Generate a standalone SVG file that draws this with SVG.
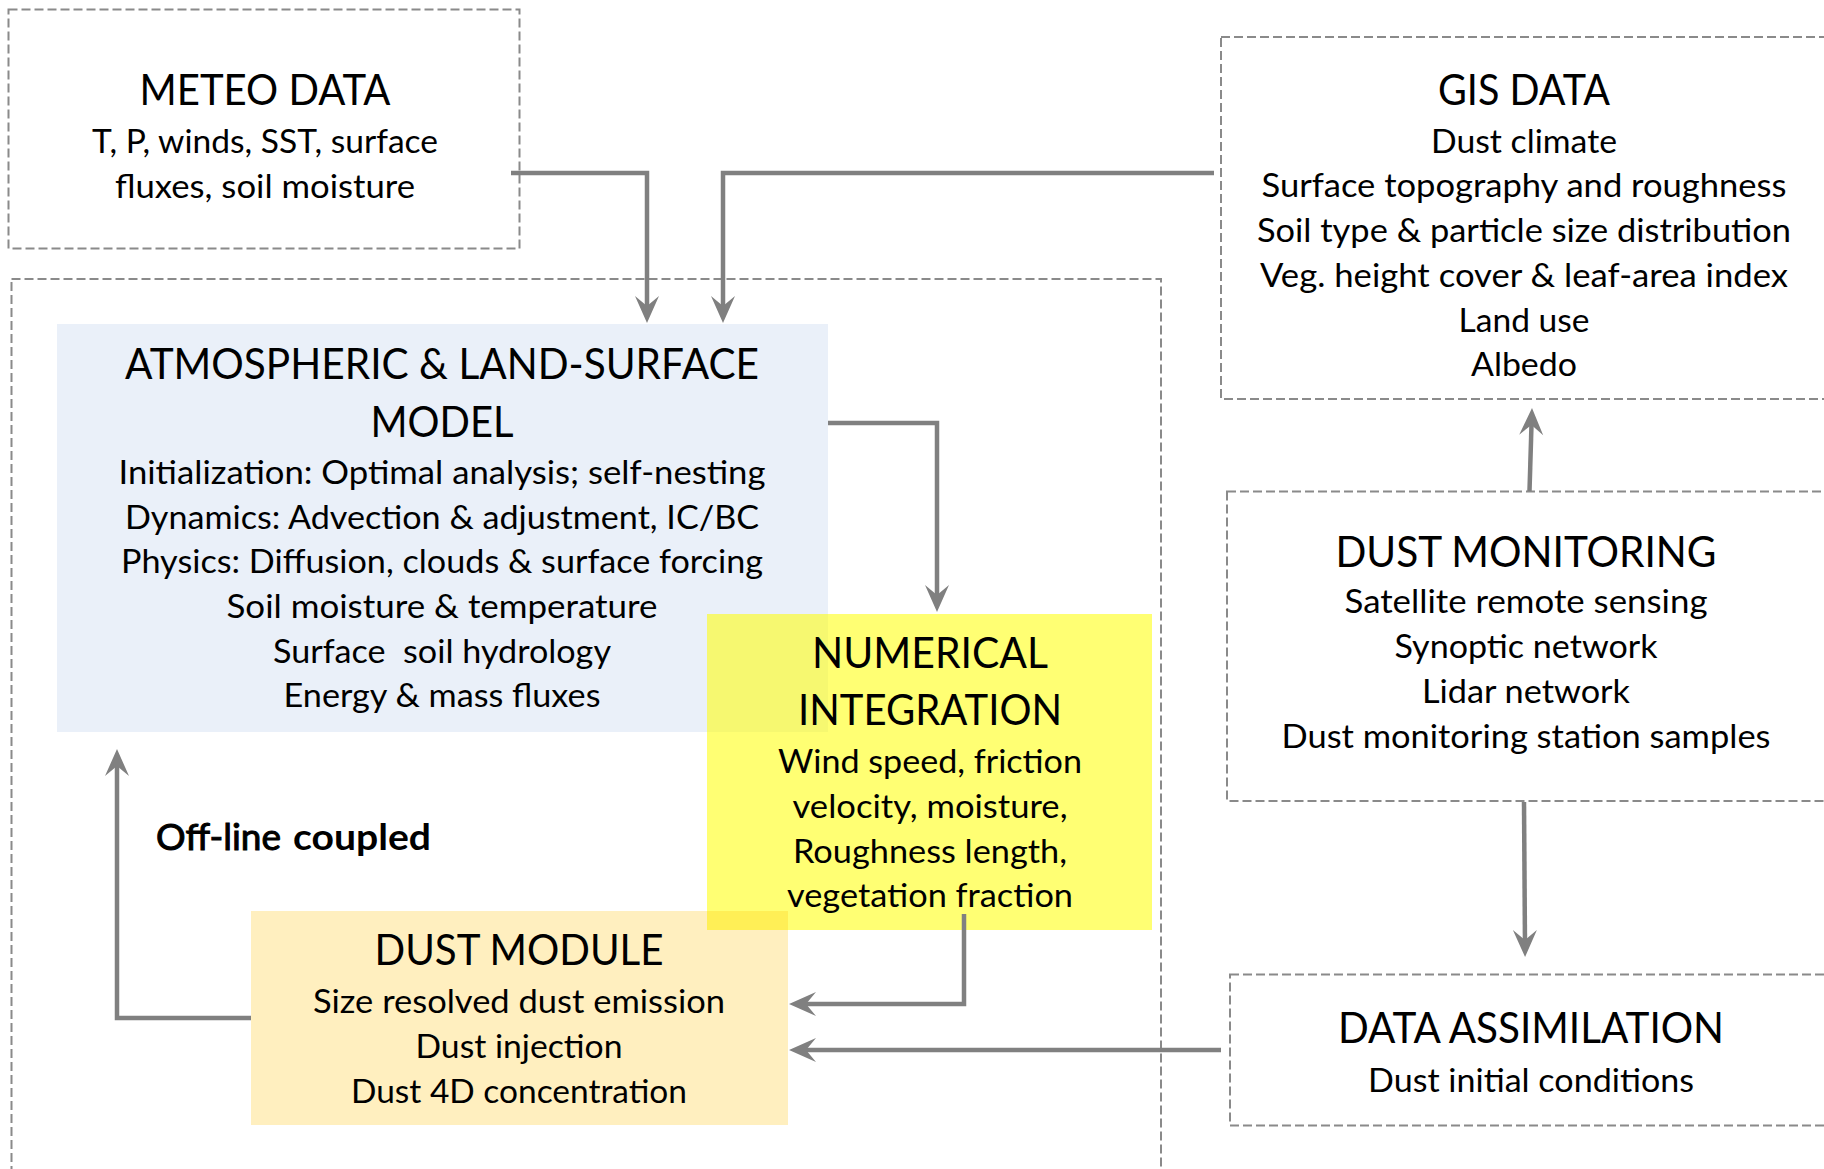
<svg xmlns="http://www.w3.org/2000/svg" width="1824" height="1169" viewBox="0 0 1824 1169">
<defs>
<style>
.box{fill:none;stroke:#8a8a8a;stroke-width:2;stroke-dasharray:9 4}
.t{font-family:Lato,"Open Sans","DejaVu Sans",sans-serif;fill:#000;text-anchor:middle}
.h{font-size:42px}
.b{font-size:32px}
.c{fill:none;stroke:#808080;stroke-width:4.5;stroke-linejoin:miter;marker-end:url(#ah)}
.ol{font-family:Lato,"Open Sans","DejaVu Sans",sans-serif;font-size:36px;fill:#000}
</style>
<marker id="ah" markerUnits="userSpaceOnUse" viewBox="-30 -15 32 30" refX="-10" refY="0" markerWidth="32" markerHeight="30" orient="auto">
<path d="M0,0 L-27,-12 L-17,0 L-27,12 Z" fill="#808080"/>
</marker>
</defs>
<rect width="1824" height="1169" fill="#fff"/>

<g id="container">
<rect class="box" x="11.5" y="279" width="1149.5" height="930"/>
</g>

<g id="meteo">
<rect class="box" x="8.5" y="9.5" width="511" height="239"/>
<text class="t h" x="265" y="105" textLength="251" lengthAdjust="spacingAndGlyphs">METEO DATA</text>
<text class="t b" x="265" y="153" textLength="346" lengthAdjust="spacingAndGlyphs">T, P, winds, SST, surface</text>
<text class="t b" x="265" y="198" textLength="300" lengthAdjust="spacingAndGlyphs">fluxes, soil moisture</text>
</g>

<g id="atm">
<rect x="57" y="324" width="771" height="408" fill="#EAF0F9"/>
<text class="t h" x="442" y="379" textLength="634" lengthAdjust="spacingAndGlyphs">ATMOSPHERIC &amp; LAND-SURFACE</text>
<text class="t h" x="442" y="437" textLength="143" lengthAdjust="spacingAndGlyphs">MODEL</text>
<text class="t b" x="442" y="484" textLength="647" lengthAdjust="spacingAndGlyphs">Initialization: Optimal analysis; self-nesting</text>
<text class="t b" x="442" y="529" textLength="634" lengthAdjust="spacingAndGlyphs">Dynamics: Advection &amp; adjustment, IC/BC</text>
<text class="t b" x="442" y="573" textLength="642" lengthAdjust="spacingAndGlyphs">Physics: Diffusion, clouds &amp; surface forcing</text>
<text class="t b" x="442" y="618" textLength="431" lengthAdjust="spacingAndGlyphs">Soil moisture &amp; temperature</text>
<text class="t b" x="442" y="663" textLength="338" lengthAdjust="spacingAndGlyphs" xml:space="preserve">Surface  soil hydrology</text>
<text class="t b" x="442" y="707" textLength="317" lengthAdjust="spacingAndGlyphs">Energy &amp; mass fluxes</text>
</g>

<g id="numerical">
<rect x="707" y="614" width="445" height="316" fill="#FFFF00" fill-opacity="0.55"/>
<text class="t h" x="930" y="668" textLength="236" lengthAdjust="spacingAndGlyphs">NUMERICAL</text>
<text class="t h" x="930" y="725" textLength="264" lengthAdjust="spacingAndGlyphs">INTEGRATION</text>
<text class="t b" x="930" y="773" textLength="304" lengthAdjust="spacingAndGlyphs">Wind speed, friction</text>
<text class="t b" x="930" y="818" textLength="275" lengthAdjust="spacingAndGlyphs">velocity, moisture,</text>
<text class="t b" x="930" y="863" textLength="274" lengthAdjust="spacingAndGlyphs">Roughness length,</text>
<text class="t b" x="930" y="907" textLength="286" lengthAdjust="spacingAndGlyphs">vegetation fraction</text>
</g>

<g id="dust-module">
<rect x="251" y="911" width="537" height="214" fill="#FFC000" fill-opacity="0.25"/>
<text class="t h" x="519" y="965" textLength="289" lengthAdjust="spacingAndGlyphs">DUST MODULE</text>
<text class="t b" x="519" y="1013" textLength="412" lengthAdjust="spacingAndGlyphs">Size resolved dust emission</text>
<text class="t b" x="519" y="1058" textLength="207" lengthAdjust="spacingAndGlyphs">Dust injection</text>
<text class="t b" x="519" y="1103" textLength="336" lengthAdjust="spacingAndGlyphs">Dust 4D concentration</text>
</g>

<g id="offline-label">
<text class="ol" x="156" y="850" stroke="#000" stroke-width="1" textLength="125" lengthAdjust="spacingAndGlyphs">Off-line</text>
<text class="ol" x="293" y="850" font-weight="bold" textLength="138" lengthAdjust="spacingAndGlyphs">coupled</text>
</g>

<g id="gis">
<rect class="box" x="1221" y="37" width="605" height="362"/>
<text class="t h" x="1524" y="105" textLength="172" lengthAdjust="spacingAndGlyphs">GIS DATA</text>
<text class="t b" x="1524" y="153" textLength="186" lengthAdjust="spacingAndGlyphs">Dust climate</text>
<text class="t b" x="1524" y="197" textLength="525" lengthAdjust="spacingAndGlyphs">Surface topography and roughness</text>
<text class="t b" x="1524" y="242" textLength="534" lengthAdjust="spacingAndGlyphs">Soil type &amp; particle size distribution</text>
<text class="t b" x="1524" y="287" textLength="528" lengthAdjust="spacingAndGlyphs">Veg. height cover &amp; leaf-area index</text>
<text class="t b" x="1524" y="332" textLength="131" lengthAdjust="spacingAndGlyphs">Land use</text>
<text class="t b" x="1524" y="376" textLength="106" lengthAdjust="spacingAndGlyphs">Albedo</text>
</g>

<g id="dust-monitoring">
<rect class="box" x="1227" y="491.5" width="605" height="309.5"/>
<text class="t h" x="1526" y="567" textLength="381" lengthAdjust="spacingAndGlyphs">DUST MONITORING</text>
<text class="t b" x="1526" y="613" textLength="363" lengthAdjust="spacingAndGlyphs">Satellite remote sensing</text>
<text class="t b" x="1526" y="658" textLength="263" lengthAdjust="spacingAndGlyphs">Synoptic network</text>
<text class="t b" x="1526" y="703" textLength="208" lengthAdjust="spacingAndGlyphs">Lidar network</text>
<text class="t b" x="1526" y="748" textLength="489" lengthAdjust="spacingAndGlyphs">Dust monitoring station samples</text>
</g>

<g id="data-assimilation">
<rect class="box" x="1230" y="974.5" width="605" height="151"/>
<text class="t h" x="1531" y="1043" textLength="386" lengthAdjust="spacingAndGlyphs">DATA ASSIMILATION</text>
<text class="t b" x="1531" y="1092" textLength="326" lengthAdjust="spacingAndGlyphs">Dust initial conditions</text>
</g>

<g id="connectors">
<path class="c" d="M511,173 H647 V313"/>
<path class="c" d="M1214,173 H723 V313"/>
<path class="c" d="M828,423 H937 V602"/>
<path class="c" d="M964,914 V1004 H799"/>
<path class="c" d="M1221,1050 H799"/>
<path class="c" d="M251,1018 H117 V759"/>
<path class="c" d="M1529.5,491 L1531.7,418"/>
<path class="c" d="M1524,802 L1525,947"/>
</g>
</svg>
